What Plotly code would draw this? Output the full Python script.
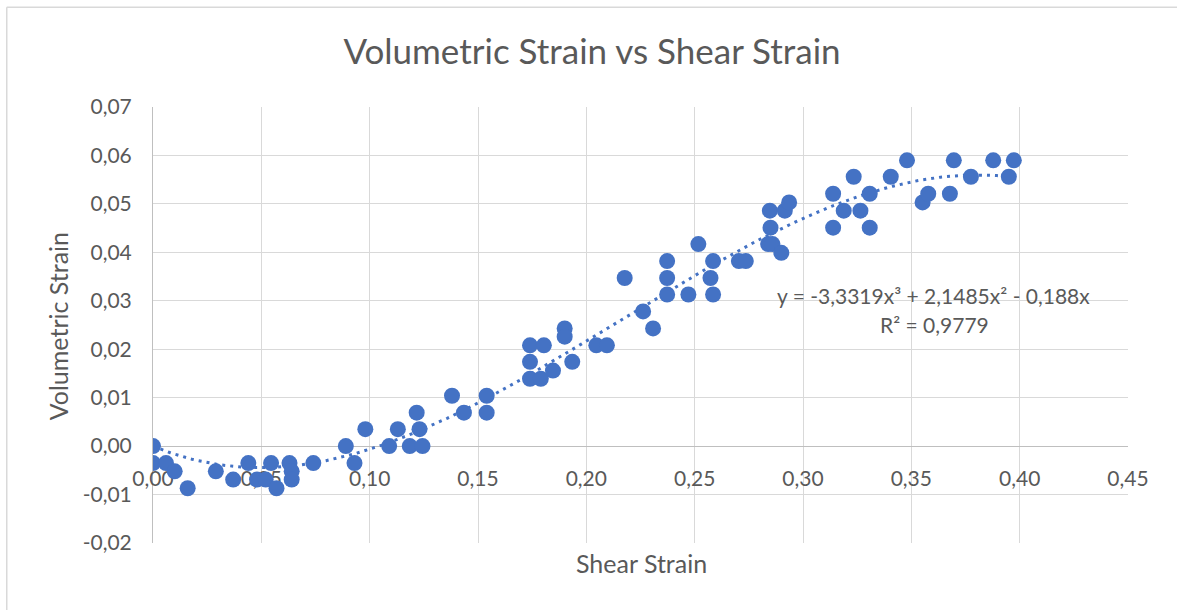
import numpy as np
import plotly.graph_objects as go

# Measured points: shear strain vs volumetric strain
shear_strain = [
    0.000, 0.000, 0.006, 0.010, 0.016, 0.029, 0.037, 0.044, 0.048, 0.052,
    0.0545, 0.057, 0.063, 0.064, 0.064, 0.074, 0.089, 0.093, 0.098, 0.109,
    0.113, 0.1185, 0.1217, 0.123, 0.1244, 0.138, 0.1435, 0.154, 0.154, 0.174,
    0.179, 0.174, 0.1804, 0.174, 0.1846, 0.190, 0.190, 0.1935, 0.2046, 0.2095,
    0.2177, 0.2262, 0.2308, 0.2373, 0.2373, 0.2373, 0.2471, 0.2517, 0.2585, 0.2573,
    0.2585, 0.2704, 0.2736, 0.2847, 0.285, 0.2839, 0.2859, 0.290, 0.2916, 0.2936,
    0.3139, 0.3139, 0.3188, 0.3234, 0.3265, 0.3308, 0.3308, 0.3405, 0.348, 0.3552,
    0.3578, 0.3678, 0.3696, 0.3775, 0.3878, 0.395, 0.3973,
]
volumetric_strain = [
    0.0000, -0.0035, -0.0035, -0.0052, -0.0087, -0.0052, -0.0069, -0.0035, -0.0069, -0.0069,
    -0.0035, -0.0087, -0.0035, -0.0052, -0.0069, -0.0035, 0.0000, -0.0035, 0.0035, 0.0000,
    0.0035, 0.0000, 0.0069, 0.0035, 0.0000, 0.0104, 0.0069, 0.0104, 0.0069, 0.0139,
    0.0139, 0.0208, 0.0208, 0.0174, 0.0156, 0.0243, 0.0226, 0.0174, 0.0208, 0.0208,
    0.0347, 0.0278, 0.0243, 0.0382, 0.0347, 0.0313, 0.0313, 0.0417, 0.0382, 0.0347,
    0.0313, 0.0382, 0.0382, 0.0486, 0.0451, 0.0417, 0.0417, 0.0399, 0.0486, 0.0503,
    0.0521, 0.0451, 0.0486, 0.0556, 0.0486, 0.0521, 0.0451, 0.0556, 0.0590, 0.0503,
    0.0521, 0.0521, 0.0590, 0.0556, 0.0590, 0.0556, 0.0590,
]

# Cubic trendline coefficients (x^3, x^2, x, const) and fit quality
trend_coeffs = [-3.3319, 2.1485, -0.188, 0.0]
r_squared = 0.9779

x_tickvals = [0.00, 0.05, 0.10, 0.15, 0.20, 0.25, 0.30, 0.35, 0.40, 0.45]
x_ticktext = ["0,00", "0,05", "0,10", "0,15", "0,20", "0,25", "0,30", "0,35", "0,40", "0,45"]
y_tickvals = [-0.02, -0.01, 0.00, 0.01, 0.02, 0.03, 0.04, 0.05, 0.06, 0.07]
y_ticktext = ["-0,02", "-0,01", "0,00", "0,01", "0,02", "0,03", "0,04", "0,05", "0,06", "0,07"]

BLUE = "#4472C4"
TEXT = "#595959"
GRID = "#D9D9D9"
AXIS = "#BFBFBF"
FONT = "Lato, 'Open Sans', sans-serif"

trend_x = np.linspace(min(shear_strain), max(shear_strain), 200)
trend_y = np.polyval(trend_coeffs, trend_x)

fig = go.Figure()
fig.add_trace(go.Scatter(
    x=trend_x, y=trend_y, mode="lines",
    line=dict(color=BLUE, width=3, dash="3px,5px"),
    hoverinfo="skip", showlegend=False,
))
fig.add_trace(go.Scatter(
    x=shear_strain, y=volumetric_strain, mode="markers",
    marker=dict(color=BLUE, size=16, line=dict(width=0)),
    showlegend=False,
))

fig.update_layout(
    width=1177, height=610,
    margin=dict(l=153, r=49, t=107, b=67),
    paper_bgcolor="white", plot_bgcolor="white",
    font=dict(family=FONT, color=TEXT, size=21),
    title=dict(text="Volumetric Strain vs Shear Strain", x=0.503, xanchor="center",
               y=0.915, yanchor="middle", font=dict(size=35, color=TEXT, family=FONT)),
    showlegend=False,
    xaxis=dict(
        range=[0, 0.45], tickvals=x_tickvals, ticktext=x_ticktext,
        showgrid=True, gridcolor=GRID, gridwidth=1,
        zeroline=False, showline=True, linecolor=AXIS, linewidth=1,
        anchor="free", position=2 / 9, layer="below traces",
        ticks="", ticklabelstandoff=14,
        tickfont=dict(size=21, color=TEXT, family=FONT),
    ),
    yaxis=dict(
        range=[-0.02, 0.07], tickvals=y_tickvals, ticktext=y_ticktext,
        showgrid=True, gridcolor=GRID, gridwidth=1,
        zeroline=False, showline=True, linecolor=AXIS, linewidth=1,
        ticks="", ticklabelstandoff=16, layer="below traces",
        tickfont=dict(size=21, color=TEXT, family=FONT),
    ),
)

# Axis titles
fig.add_annotation(text="Shear Strain", xref="paper", yref="paper",
                   x=0.501, y=-0.045, xanchor="center", yanchor="middle",
                   showarrow=False, font=dict(size=25, color=TEXT, family=FONT))
fig.add_annotation(text="Volumetric Strain", xref="paper", yref="paper",
                   x=-0.098, y=0.498, xanchor="center", yanchor="middle", textangle=-90,
                   showarrow=False, font=dict(size=25, color=TEXT, family=FONT))

# Trendline equation label
def fmt(v, nd):
    return f"{abs(v):.{nd}f}".replace(".", ",")

eq_text = (f"y = -{fmt(trend_coeffs[0], 4)}x³ + {fmt(trend_coeffs[1], 4)}x² "
           f"- {fmt(trend_coeffs[2], 3)}x")
fig.add_annotation(text=eq_text, x=0.287, y=0.031, xanchor="left", yanchor="middle",
                   showarrow=False, font=dict(size=21, color=TEXT, family=FONT))
fig.add_annotation(text=f"R² = {fmt(r_squared, 4)}", x=0.3346, y=0.0252,
                   xanchor="left", yanchor="middle",
                   showarrow=False, font=dict(size=21, color=TEXT, family=FONT))

# Chart area border (left and top edges)
fig.add_shape(type="line", xref="paper", yref="paper",
              x0=-0.150, y0=-0.2, x1=-0.150, y1=1.229,
              line=dict(color=GRID, width=1.5), layer="below")
fig.add_shape(type="line", xref="paper", yref="paper",
              x0=-0.150, y0=1.229, x1=1.2, y1=1.229,
              line=dict(color=GRID, width=1.5), layer="below")

fig.write_html("out.html")
